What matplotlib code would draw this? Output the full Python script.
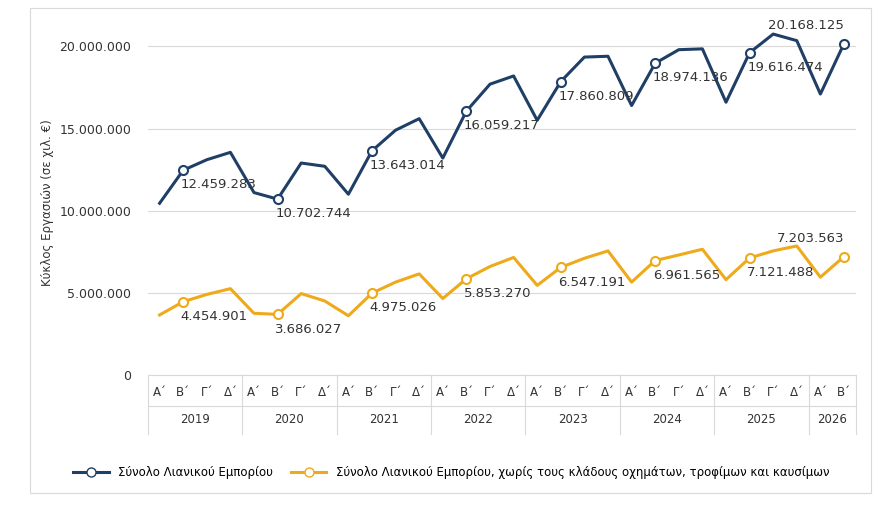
import matplotlib
matplotlib.use("Agg")
import matplotlib.pyplot as plt
from matplotlib.lines import Line2D

years = ["2019","2020","2021","2022","2023","2024","2025","2026"]
quarters = ["Α΄","Β΄","Γ΄","Δ΄"]
total = [10.45,12.459283,13.1,13.55, 11.1,10.702744,12.9,12.7, 11.0,13.643014,14.9,15.6,
         13.2,16.059217,17.7,18.2, 15.5,17.860809,19.35,19.4, 16.4,18.974136,19.8,19.85,
         16.6,19.616474,20.75,20.35, 17.1,20.168125]
core = [3.65,4.454901,4.9,5.25, 3.75,3.686027,4.95,4.5, 3.6,4.975026,5.65,6.15,
        4.65,5.853270,6.6,7.15, 5.45,6.547191,7.1,7.55, 5.65,6.961565,7.3,7.65,
        5.8,7.121488,7.55,7.85, 5.95,7.203563]
label_idx = [1,5,9,13,17,21,25,29]

def fmt(v):
    return f"{int(round(v*1e6)):,}".replace(",", ".")

blue = "#1f3f66"; orange = "#eeaa1a"
fig = plt.figure(figsize=(8.85,5.08), dpi=100)
fig.patches.append(plt.Rectangle((0.034,0.03),0.95,0.955, transform=fig.transFigure,
                                 fill=False, ec="#d9d9d9", lw=0.8))
ax = fig.add_axes([0.167,0.262,0.8,0.679])
n = len(total)
x = list(range(n))
ax.plot(x, [v*1e6 for v in total], color=blue, lw=2.2, zorder=3)
ax.plot(x, [v*1e6 for v in core], color=orange, lw=2.2, zorder=3)
for i in label_idx:
    for s, c in ((total, blue), (core, orange)):
        ax.plot(i, s[i]*1e6, "o", ms=6.5, mfc="white", mec=c, mew=1.5, zorder=4)
        if i == n-1:
            ax.text(i, s[i]*1e6+0.7e6, fmt(s[i]), ha="right", va="bottom", fontsize=9.5, color="#333333")
        else:
            ax.text(i-0.1, s[i]*1e6-0.5e6, fmt(s[i]), ha="left", va="top", fontsize=9.5, color="#333333")
ax.set_xlim(-0.5, n-0.5)
ax.set_ylim(0, 21e6)
ax.set_yticks([0,5e6,10e6,15e6,20e6])
ax.set_yticklabels([fmt(v/1e6) if v else "0" for v in [0,5e6,10e6,15e6,20e6]], fontsize=9, color="#333333")
ax.grid(axis="y", color="#d9d9d9", lw=0.8)
ax.set_axisbelow(True)
for s in ["top","right","left"]:
    ax.spines[s].set_visible(False)
ax.spines["bottom"].set_color("#d9d9d9")
ax.tick_params(axis="y", length=0, pad=12)
ax.set_xticks(x)
ax.set_xticklabels([quarters[i % 4] for i in x], fontsize=8.5, color="#333333")
ax.tick_params(axis="x", length=0, pad=8)
ax.set_ylabel("Κύκλος Εργασιών (σε χιλ. €)", fontsize=8.5, color="#333333")
tr = ax.get_xaxis_transform()
bounds = [-0.5] + [3.5 + 4*k for k in range(7)] + [n-0.5]
for b in bounds:
    ax.plot([b,b],[0,-0.17], transform=tr, color="#d9d9d9", lw=0.8, clip_on=False)
ax.plot([-0.5,n-0.5],[-0.09,-0.09], transform=tr, color="#d9d9d9", lw=0.8, clip_on=False)
for k, yname in enumerate(years):
    ax.text((bounds[k]+bounds[k+1])/2, -0.13, yname, transform=tr, ha="center", va="center",
            fontsize=8.5, color="#333333")
h = [Line2D([],[],color=blue,lw=2.2,marker="o",mfc="white",mec=blue,ms=6.5),
     Line2D([],[],color=orange,lw=2.2,marker="o",mfc="white",mec=orange,ms=6.5)]
fig.legend(h, ["Σύνολο Λιανικού Εμπορίου",
               "Σύνολο Λιανικού Εμπορίου, χωρίς τους κλάδους οχημάτων, τροφίμων και καυσίμων"],
           loc="center", bbox_to_anchor=(0.51,0.07), ncol=2, frameon=False, fontsize=8.5,
           handlelength=3, columnspacing=1.5)
fig.savefig("out.png", dpi=100)
